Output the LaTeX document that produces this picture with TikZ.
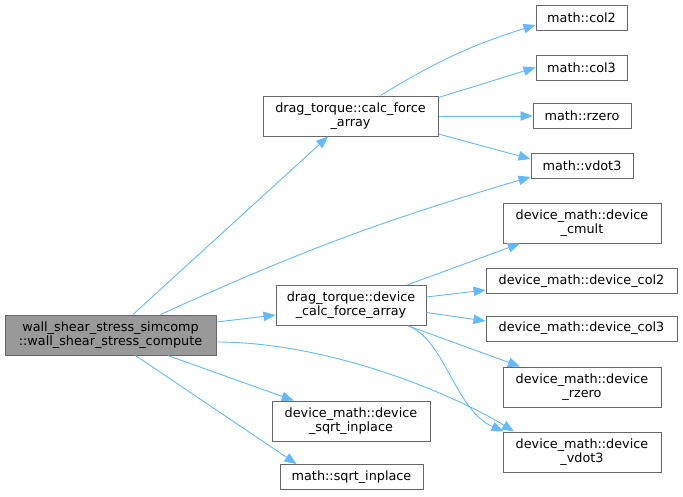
\documentclass[tikz,border=0pt]{standalone}
\usepackage{fontspec}
\setmainfont{DejaVu Sans}
\usetikzlibrary{arrows.meta}
\definecolor{edgec}{HTML}{63B8FF}
\definecolor{bordc}{HTML}{666666}
\definecolor{mainfill}{HTML}{999999}
\begin{document}
\begin{tikzpicture}[x=1pt,y=-1pt,
  box/.style={draw=bordc,line width=1pt,fill=white,align=center,inner sep=0pt,
    font=\fontsize{12.8}{14}\selectfont},
  two/.style={box,minimum height=40pt},
  one/.style={box,minimum height=25pt},
  edge/.style={draw=edgec,line width=0.9pt,-{Triangle[length=12pt,width=9.5pt]}}]
\useasboundingbox (0,0) rectangle (683,496);

\node[two,fill=mainfill,minimum width=211pt] (main) at (110.5,335) {wall\_shear\_stress\_simcomp\\::wall\_shear\_stress\_compute};
\node[two,minimum width=175pt] (cfa) at (350.5,116) {drag\_torque::calc\_force\\\_array};
\node[one,minimum width=91pt] (col2) at (581.5,18) {math::col2};
\node[one,minimum width=91pt] (col3) at (581.5,67.5) {math::col3};
\node[one,minimum width=98pt] (rzero) at (582,116) {math::rzero};
\node[one,minimum width=102pt] (mvdot3) at (582,166) {math::vdot3};
\node[two,minimum width=150pt] (dcfa) at (351,305.5) {drag\_torque::device\\\_calc\_force\_array};
\node[two,minimum width=158pt] (dsqrt) at (351,421) {device\_math::device\\\_sqrt\_inplace};
\node[one,minimum width=143pt] (msqrt) at (351.5,477) {math::sqrt\_inplace};
\node[two,minimum width=158pt] (dcmult) at (582,223) {device\_math::device\\\_cmult};
\node[one,minimum width=191pt] (dcol2) at (581.5,281) {device\_math::device\_col2};
\node[one,minimum width=191pt] (dcol3) at (581.5,328.5) {device\_math::device\_col3};
\node[two,minimum width=158pt] (drzero) at (582,387) {device\_math::device\\\_rzero};
\node[two,minimum width=158pt] (dvdot3) at (582,452) {device\_math::device\\\_vdot3};

% from main
\draw[edge] (main) -- (cfa);
\draw[edge] ([xshift=50pt]main.north) to[bend left=4] ([yshift=-11pt]mvdot3.west);
\draw[edge] ([yshift=13pt]main.east) -- ([yshift=-9.5pt]dcfa.west);
\draw[edge] ([yshift=-7pt]main.east) .. controls (330,342) and (455,395) .. ([xshift=-68pt]dvdot3.north);
\draw[edge] (main) -- (dsqrt);
\draw[edge] ([xshift=25pt]main.south) -- ([xshift=-55pt]msqrt.north);

% from calc_force_array
\draw[edge] ([xshift=30pt]cfa.north) to[bend left=7] ([yshift=-7pt]col2.west);
\draw[edge] ([yshift=-2pt]cfa.north east) -- (col3.west);
\draw[edge] (cfa.east) -- (rzero.west);
\draw[edge] ([yshift=-18pt]cfa.east) -- ([yshift=7pt]mvdot3.west);

% from device_calc_force_array
\draw[edge] ([xshift=56pt]dcfa.north) -- ([xshift=-62pt]dcmult.south);
\draw[edge] ([yshift=8.5pt]dcfa.east) -- ([yshift=-9pt]dcol2.west);
\draw[edge] ([yshift=-7pt]dcfa.east) -- ([yshift=7.5pt]dcol3.west);
\draw[edge] ([xshift=-18pt]dcfa.south east) -- ([xshift=-62pt]drzero.north);
\draw[edge] ([xshift=-18pt]dcfa.south east) .. controls (445,340) and (455,410) .. ([xshift=1pt]dvdot3.north west);
\end{tikzpicture}
\end{document}
